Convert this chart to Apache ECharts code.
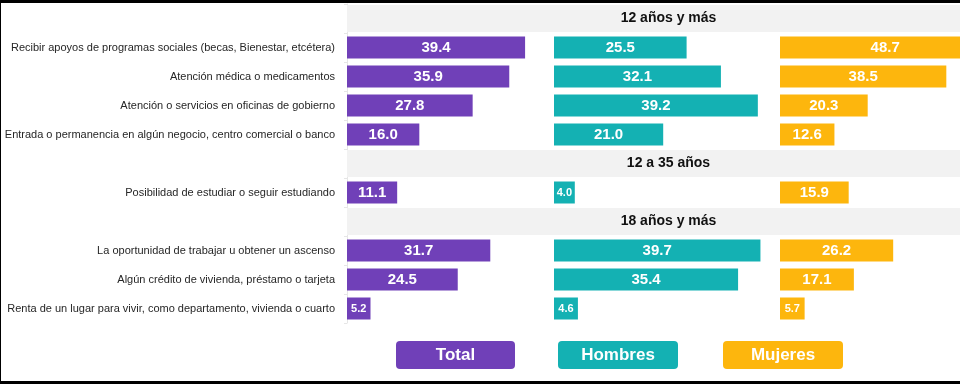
<!DOCTYPE html>
<html>
<head>
<meta charset="utf-8">
<script src="https://cdn.jsdelivr.net/npm/echarts@6/dist/echarts.min.js"></script>
<style>
html,body{margin:0;padding:0;background:#fff;}
#c{width:960px;height:384px;}
</style>
</head>
<body>
<div id="c"></div>
<script>
const seriesNames = ['Total', 'Hombres', 'Mujeres'];
const groupTitles = ['12 años y más', '12 a 35 años', '18 años y más'];
const groupSizes = [4, 1, 3];
const categories = [
  'Recibir apoyos de programas sociales (becas, Bienestar, etcétera)',
  'Atención médica o medicamentos',
  'Atención o servicios en oficinas de gobierno',
  'Entrada o permanencia en algún negocio, centro comercial o banco',
  'Posibilidad de estudiar o seguir estudiando',
  'La oportunidad de trabajar u obtener un ascenso',
  'Algún crédito de vivienda, préstamo o tarjeta',
  'Renta de un lugar para vivir, como departamento, vivienda o cuarto'
];
const totalValues = [39.4, 35.9, 27.8, 16.0, 11.1, 31.7, 24.5, 5.2];
const hombresValues = [25.5, 32.1, 39.2, 21.0, 4.0, 39.7, 35.4, 4.6];
const mujeresValues = [48.7, 38.5, 20.3, 12.6, 15.9, 26.2, 17.1, 5.7];

const colors = ['#7040b8', '#14b1b3', '#fdb60d'];
const FONT = "'Liberation Sans Narrow', 'Arial Narrow', 'Liberation Sans', Arial, sans-serif";

// Build slot list: header rows inserted before each group
const slotLabels = [];
const headerSlots = [];
const slotIndexOfItem = [];
let k = 0;
groupSizes.forEach((n, g) => {
  headerSlots.push({slot: slotLabels.length, title: groupTitles[g]});
  slotLabels.push('');
  for (let j = 0; j < n; j++) {
    slotIndexOfItem.push(slotLabels.length);
    slotLabels.push(categories[k++]);
  }
});
const nSlots = slotLabels.length;

function slotData(values) {
  const arr = new Array(nSlots).fill(null);
  values.forEach((v, i) => {
    arr[slotIndexOfItem[i]] = {
      value: v,
      label: {fontSize: v < 10 ? 11 : 15}
    };
  });
  return arr;
}
const headerData = new Array(nSlots).fill(null);
headerSlots.forEach(h => { headerData[h.slot] = {value: 1, name: h.title}; });

const rowH = 29;
const gridTop = 4;
const gridH = rowH * nSlots;
const panels = [
  {left: 347, max: 44, scale: 4.52, values: totalValues},
  {left: 554, max: 40, scale: 5.2, values: hombresValues},
  {left: 780, max: 50, scale: 4.32, values: mujeresValues}
];

const grids = [], xAxes = [], yAxes = [], series = [];
panels.forEach((p, i) => {
  grids.push({left: p.left, top: gridTop, width: p.max * p.scale, height: gridH,
    containLabel: false, outerBoundsMode: 'none'});
  xAxes.push({type: 'value', gridIndex: i, min: 0, max: p.max, show: false});
  yAxes.push({
    type: 'category', gridIndex: i, data: slotLabels, inverse: true,
    offset: i === 0 ? 3 : 0,
    axisLine: {show: i === 0, lineStyle: {color: '#e6e6e6', width: 1}},
    axisTick: {show: i === 0, length: 3, lineStyle: {color: '#e6e6e6'}},
    axisLabel: {show: i === 0, margin: 9, color: '#262626', fontSize: 11, fontFamily: FONT},
    splitLine: {show: false}
  });
  series.push({
    type: 'bar', name: seriesNames[i], xAxisIndex: i, yAxisIndex: i,
    data: slotData(p.values), barWidth: 22,
    itemStyle: {color: colors[i]},
    label: {
      show: true, position: 'inside', color: '#fff', fontWeight: 'bold',
      fontFamily: FONT, formatter: d => d.value.toFixed(1)
    },
    silent: true, animation: false
  });
});
// header band grid
grids.push({left: 347, top: gridTop, width: 643, height: gridH, outerBoundsMode: 'none'});
xAxes.push({type: 'value', gridIndex: 3, min: 0, max: 1, show: false});
yAxes.push({type: 'category', gridIndex: 3, data: slotLabels, inverse: true, show: false});
series.push({
  type: 'bar', xAxisIndex: 3, yAxisIndex: 3, data: headerData, barWidth: 27,
  itemStyle: {color: '#f2f2f2'}, z: 1,
  label: {show: true, position: 'inside', color: '#111', fontWeight: 'bold', fontSize: 14,
    fontFamily: FONT, formatter: d => d.name},
  silent: true, animation: false
});

const legendBoxes = [
  {x: 396, w: 119}, {x: 558, w: 120}, {x: 723, w: 120}
];
const graphic = [];
legendBoxes.forEach((b, i) => {
  graphic.push({
    type: 'rect', left: b.x, top: 341, z: 10,
    shape: {width: b.w, height: 28, r: 4},
    style: {fill: colors[i]}
  });
  graphic.push({
    type: 'text', x: b.x + b.w / 2, y: 355, z: 11,
    style: {text: seriesNames[i], fill: '#fff', font: 'bold 17px ' + FONT,
      textAlign: 'center', textVerticalAlign: 'middle'}
  });
});
// frame
graphic.push({type: 'rect', left: 0, top: 0, z: 20, shape: {width: 960, height: 3}, style: {fill: '#000'}});
graphic.push({type: 'rect', left: 0, top: 381, z: 20, shape: {width: 960, height: 3}, style: {fill: '#000'}});
graphic.push({type: 'rect', left: 0, top: 0, z: 20, shape: {width: 1, height: 384}, style: {fill: '#000'}});

const chart = echarts.init(document.getElementById('c'), null, {renderer: 'canvas'});
chart.setOption({
  backgroundColor: '#fff',
  animation: false,
  grid: grids, xAxis: xAxes, yAxis: yAxes, series: series,
  graphic: graphic
});
</script>
</body>
</html>
